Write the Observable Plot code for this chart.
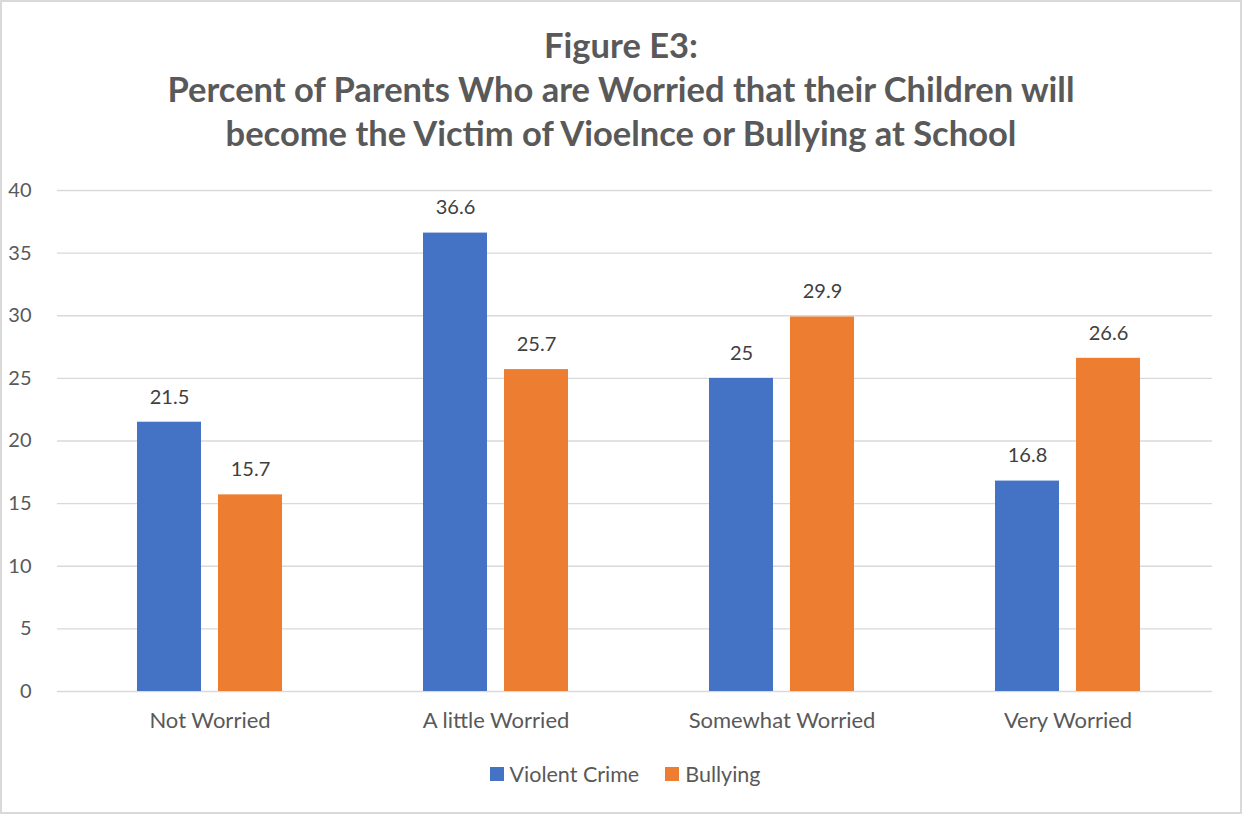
<!DOCTYPE html>
<html>
<head>
<meta charset="utf-8">
<script src="https://cdn.jsdelivr.net/npm/d3@7"></script>
<script src="https://cdn.jsdelivr.net/npm/@observablehq/plot@0.6"></script>
<style>
  html, body { margin: 0; padding: 0; background: #fff; }
  #frame {
    width: 1242px; height: 814px; box-sizing: border-box;
    border: 2px solid #d9d9d9; background: #fff; position: relative; overflow: hidden;
    font-family: Lato, "Open Sans", sans-serif;
  }
  #title {
    text-align: center; color: #595959; font-weight: bold; font-size: 34.5px;
    line-height: 44px; padding-top: 21px; margin: 0;
  }
  #legend {
    display: flex; justify-content: center; align-items: center; gap: 26px;
    font-size: 21.5px; color: #595959; margin-top: 20px; padding-left: 8px;
  }
  .sw { display: inline-flex; align-items: center; gap: 6px; }
  .sq { width: 14px; height: 14px; display: inline-block; }
</style>
</head>
<body>
<div id="frame">
  <div id="title">Figure E3:<br>Percent of Parents Who are Worried that their Children will<br>become the Victim of Vioelnce or Bullying at School</div>
  <div id="chart"></div>
  <div id="legend"></div>
</div>
<script>
const categories = ["Not Worried", "A little Worried", "Somewhat Worried", "Very Worried"];
const seriesNames = ["Violent Crime", "Bullying"];
const violentCrime = [21.5, 36.6, 25, 16.8];
const bullying = [15.7, 25.7, 29.9, 26.6];
const colors = ["#4472C4", "#ED7D31"];
const yTicks = [0, 5, 10, 15, 20, 25, 30, 35, 40];

const vc = categories.map((c, i) => ({category: c, value: violentCrime[i]}));
const bu = categories.map((c, i) => ({category: c, value: bullying[i]}));

const textColor = "#595959";
const fmt = d => String(d);

const plot = Plot.plot({
  width: 1238,
  height: 586,
  marginLeft: 55,
  marginRight: 28,
  marginTop: 35,
  marginBottom: 50,
  style: {fontFamily: "Lato, 'Open Sans', sans-serif", fontSize: "20px", color: textColor, background: "#fff", overflow: "visible"},
  x: {domain: categories, paddingInner: 0.494, paddingOuter: 0.247, insetLeft: 8, label: null},
  y: {domain: [0, 40], label: null},
  marks: [
    Plot.ruleY(yTicks, {stroke: "#d9d9d9", strokeWidth: 1.3}),
    Plot.barY(vc, {x: "category", y: "value", fill: colors[0], insetRight: 81}),
    Plot.barY(bu, {x: "category", y: "value", fill: colors[1], insetLeft: 81}),
    Plot.text(vc, {x: "category", y: "value", text: d => fmt(d.value), dx: -40.5, dy: -25, fill: "#404040", fontSize: 20, lineAnchor: "middle"}),
    Plot.text(bu, {x: "category", y: "value", text: d => fmt(d.value), dx: 40.5, dy: -25, fill: "#404040", fontSize: 20, lineAnchor: "middle"}),
    Plot.axisY({ticks: yTicks, tickSize: 0, tickPadding: 26, fill: textColor, fontSize: 20, label: null}),
    Plot.axisX({tickSize: 0, tickPadding: 21, fill: textColor, fontSize: 22, label: null})
  ]
});
document.getElementById("chart").appendChild(plot);

const legend = document.getElementById("legend");
seriesNames.forEach((name, i) => {
  const s = document.createElement("span");
  s.className = "sw";
  const q = document.createElement("span");
  q.className = "sq";
  q.style.background = colors[i];
  s.appendChild(q);
  s.appendChild(document.createTextNode(name));
  legend.appendChild(s);
});
</script>
</body>
</html>
